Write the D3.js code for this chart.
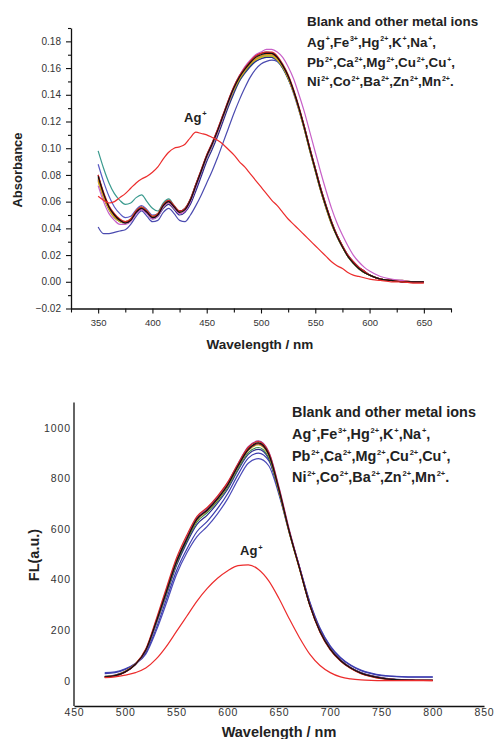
<!DOCTYPE html>
<html><head><meta charset="utf-8">
<script src="https://cdn.jsdelivr.net/npm/d3@7"></script>
<style>
body{margin:0;background:#fff}
svg{display:block;background:#fff}
text{font-family:"Liberation Sans",Arial,Helvetica,sans-serif}
</style>
</head><body><svg id="c" width="495" height="739"></svg>
<script>
// ---------- Absorbance (top) ----------
const wlAbs = [350,355,360,365,370,375,380,385,390,395,400,405,410,415,420,425,430,435,440,445,450,455,460,465,470,475,480,485,490,495,500,505,510,515,520,525,530,535,540,545,550,555,560,565,570,575,580,585,590,595,600,610,620,630,640,650];
const absBlack  = [.079,.066,.056,.050,.046,.044,.046,.052,.055,.052,.048,.050,.057,.060,.056,.052,.054,.061,.072,.083,.094,.103,.113,.124,.135,.145,.153,.159,.164,.168,.170,.171,.171,.168,.162,.154,.143,.130,.115,.099,.084,.069,.056,.044,.034,.026,.019,.014,.010,.007,.005,.002,.001,.000,.000,.000];
const absRed    = [.080,.067,.057,.051,.047,.045,.047,.053,.056,.053,.049,.051,.058,.061,.057,.053,.055,.062,.073,.084,.095,.104,.114,.125,.136,.146,.154,.160,.165,.169,.171,.172,.172,.169,.163,.155,.144,.131,.116,.100,.085,.070,.057,.045,.035,.027,.020,.015,.011,.008,.005,.002,.001,.000,.000,.000];
const absOrange = [.077,.064,.055,.049,.046,.045,.047,.053,.056,.053,.049,.051,.057,.060,.056,.052,.054,.061,.072,.083,.094,.103,.113,.124,.134,.144,.152,.158,.163,.167,.169,.170,.170,.167,.161,.153,.142,.129,.114,.098,.083,.068,.055,.043,.034,.026,.019,.014,.010,.007,.005,.002,.001,.001,.000,.000];
const absOlive  = [.075,.063,.054,.048,.045,.044,.046,.052,.055,.052,.048,.050,.056,.059,.055,.052,.054,.061,.072,.083,.093,.102,.112,.123,.134,.144,.152,.158,.163,.166,.168,.169,.169,.166,.161,.153,.142,.129,.115,.099,.084,.069,.056,.044,.034,.026,.019,.014,.010,.007,.005,.002,.001,.000,.000,.000];
const absGreen  = [.078,.065,.056,.050,.046,.045,.047,.053,.056,.053,.049,.051,.058,.061,.056,.052,.054,.061,.072,.082,.093,.102,.112,.123,.133,.143,.151,.157,.162,.166,.168,.169,.169,.166,.160,.152,.142,.129,.114,.098,.083,.068,.055,.043,.034,.026,.019,.014,.010,.007,.005,.002,.001,.000,.000,.000];
const absMagenta= [.072,.060,.051,.046,.043,.043,.045,.051,.054,.051,.047,.049,.056,.059,.055,.051,.053,.060,.071,.082,.093,.102,.112,.123,.134,.145,.154,.161,.166,.170,.172,.174,.174,.172,.168,.161,.152,.140,.127,.112,.097,.082,.068,.055,.044,.035,.027,.020,.015,.011,.008,.004,.002,.001,.000,.000];
const absWine   = [.080,.066,.056,.050,.046,.044,.046,.052,.055,.052,.048,.050,.057,.060,.056,.053,.055,.062,.073,.084,.095,.104,.114,.125,.136,.146,.154,.160,.165,.169,.171,.172,.171,.168,.162,.154,.143,.130,.116,.100,.085,.070,.057,.045,.035,.027,.020,.015,.011,.008,.005,.002,.001,.000,.000,.000];
const absTeal   = [.098,.085,.074,.066,.061,.058,.059,.063,.065,.060,.055,.053,.059,.062,.057,.053,.055,.062,.073,.083,.094,.103,.113,.123,.134,.144,.152,.158,.163,.167,.169,.170,.170,.167,.161,.153,.142,.129,.114,.098,.083,.068,.055,.043,.034,.026,.019,.014,.010,.007,.005,.002,.001,.000,.000,.000];
const absBlueHi = [.088,.075,.064,.056,.051,.048,.049,.054,.057,.054,.050,.051,.057,.060,.056,.052,.054,.061,.071,.082,.093,.102,.112,.123,.133,.143,.151,.157,.162,.165,.167,.168,.168,.165,.160,.152,.141,.128,.114,.098,.083,.068,.055,.044,.034,.026,.019,.014,.010,.007,.005,.002,.001,.001,.000,.000];
const absBlueLo = [.041,.036,.036,.037,.038,.039,.043,.049,.053,.049,.045,.046,.052,.055,.051,.046,.045,.050,.057,.065,.074,.083,.093,.104,.115,.126,.136,.145,.153,.159,.163,.165,.166,.165,.160,.152,.142,.129,.115,.099,.084,.069,.056,.044,.034,.026,.019,.014,.010,.007,.005,.002,.001,.000,.000,.000];
const absNavy   = [.076,.063,.054,.048,.045,.044,.046,.051,.054,.051,.047,.049,.055,.058,.054,.050,.052,.058,.068,.079,.090,.099,.109,.120,.131,.141,.150,.156,.161,.165,.167,.168,.168,.166,.161,.153,.143,.130,.116,.100,.085,.070,.057,.045,.035,.027,.020,.015,.011,.008,.005,.002,.001,.000,.000,.000];
const absAg     = [.064,.061,.059,.060,.063,.066,.070,.074,.077,.079,.082,.086,.092,.097,.100,.101,.103,.108,.112,.111,.110,.108,.106,.103,.099,.095,.090,.086,.081,.076,.071,.066,.061,.057,.052,.047,.043,.039,.035,.031,.027,.023,.019,.015,.012,.010,.007,.005,.004,.003,.002,.001,.000,.000,-.001,-.001];

const absMajorTicks = [-0.02,0,0.02,0.04,0.06,0.08,0.10,0.12,0.14,0.16,0.18];
const absMinorTicks = [-0.01,0.01,0.03,0.05,0.07,0.09,0.11,0.13,0.15,0.17,0.19];
const wlAbsMajorTicks = [350,400,450,500,550,600,650];
const wlAbsMinorTicks = [325,375,425,475,525,575,625,675];

// ---------- Fluorescence (bottom) ----------
const wlFl = [480,490,500,510,520,530,540,550,560,570,580,590,600,610,620,630,640,650,660,670,680,690,700,710,720,730,740,750,760,770,780,790,800];
const flBlack  = [15,20,35,65,120,230,350,470,560,640,675,720,775,850,915,940,895,755,590,445,300,195,125,80,50,30,18,10,5,3,2,1,1];
const flRed    = [14,19,34,66,125,240,365,485,575,650,685,730,785,858,922,945,902,760,592,445,298,192,122,78,48,28,16,8,4,2,1,1,0];
const flOrange = [15,20,36,66,122,235,357,475,565,640,678,722,778,852,916,938,893,752,588,443,299,194,124,79,49,29,17,9,5,3,2,1,1];
const flOlive  = [16,21,37,66,120,228,348,468,560,635,672,716,772,846,910,932,890,750,587,443,300,195,125,80,50,30,18,10,5,3,2,1,1];
const flPurple = [15,20,35,64,118,228,350,472,565,645,680,727,783,858,925,948,905,765,598,450,303,196,125,80,50,30,18,10,5,3,2,1,1];
const flWine   = [15,20,35,65,121,232,352,470,560,638,673,718,773,847,912,936,893,754,590,446,301,196,126,81,51,31,19,11,6,3,2,1,1];
const flGreen  = [16,21,36,65,118,225,343,462,552,628,665,710,765,838,902,922,882,745,585,442,299,195,125,80,50,30,18,10,5,3,2,1,1];
const flNavy   = [17,22,37,65,117,222,338,455,545,618,655,702,758,832,895,915,878,745,588,447,303,198,127,82,52,32,20,12,7,4,3,2,2];
const flBlue1  = [28,32,45,68,110,205,320,435,520,590,630,680,740,815,880,900,870,745,590,450,310,205,135,90,60,40,28,20,17,15,14,14,14];
const flBlue2  = [32,35,47,68,105,195,305,420,505,570,610,660,720,795,860,878,850,735,585,450,312,208,138,92,62,42,30,22,18,16,15,15,15];
const flAg     = [12,15,22,32,50,85,135,195,255,315,365,405,435,455,458,440,395,325,245,170,105,60,32,15,7,3,1,0,0,0,0,0,0];

const flTicks = [0,200,400,600,800,1000];
const wlFlTicks = [450,500,550,600,650,700,750,800,850];

// ---------- Texts ----------
const legendTitle = "Blank and other metal ions";
const ionLines = [
  [["Ag","+"],[",Fe","3+"],[",Hg","2+"],[",K","+"],[",Na","+"],[",",""]],
  [["Pb","2+"],[",Ca","2+"],[",Mg","2+"],[",Cu","2+"],[",Cu","+"],[",",""]],
  [["Ni","2+"],[",Co","2+"],[",Ba","2+"],[",Zn","2+"],[",Mn","2+"],[".",""]]
];
const agLabel = ["Ag","+"];

const absSeries = [
  {v:absBlueLo, c:"#4b4bb0"},
  {v:absBlueHi, c:"#5a5ac4"},
  {v:absTeal,   c:"#3a9a8e"},
  {v:absNavy,   c:"#2a2a8c"},
  {v:absGreen,  c:"#3c8c48"},
  {v:absOlive,  c:"#c8c020"},
  {v:absOrange, c:"#f08a20"},
  {v:absWine,   c:"#8c1c40"},
  {v:absMagenta,c:"#c860c8"},
  {v:absRed,    c:"#d82828"},
  {v:absBlack,  c:"#111111"}
];
const flSeries = [
  {v:flBlue2,  c:"#4a4ab8"},
  {v:flBlue1,  c:"#3c3cae"},
  {v:flNavy,   c:"#2a2a8c"},
  {v:flGreen,  c:"#3c8c48"},
  {v:flOlive,  c:"#c8c020"},
  {v:flOrange, c:"#f08a20"},
  {v:flWine,   c:"#8c1c40"},
  {v:flPurple, c:"#a040a0"},
  {v:flRed,    c:"#d82828"},
  {v:flBlack,  c:"#111111"}
];

const svg = d3.select("#c");
const txt = "#222";

function supText(g, x, y, parts, size, supSize) {
  const t = g.append("text").attr("x", x).attr("y", y)
    .attr("font-size", size).attr("font-weight", "bold").attr("fill", txt);
  const shift = size * 0.4;
  let back = 0;
  parts.forEach(([base, sup]) => {
    t.append("tspan").attr("dy", back).text(base);
    back = 0;
    if (sup) {
      t.append("tspan").attr("dx", 0.8).attr("dy", -shift).attr("font-size", supSize).text(sup);
      back = shift;
    }
  });
  return t;
}

function styleAxis(g, col) {
  g.selectAll("path.domain").attr("stroke", "#111").attr("stroke-width", 1.3);
  g.selectAll(".tick line").attr("stroke", "#111").attr("stroke-width", 1.1);
  g.selectAll(".tick text").attr("fill", col).attr("font-family", '"Liberation Sans",Arial,sans-serif');
}

// ================= TOP CHART =================
{
  const x = d3.scaleLinear().domain([325, 675]).range([71, 451]);
  const y = d3.scaleLinear().domain([-0.02, 0.19]).range([308.5, 28]);
  const g = svg.append("g");

  const line = d3.line().curve(d3.curveMonotoneX);
  absSeries.forEach(s => {
    const pts = wlAbs.map((w,i) => [x(w), y(s.v[i])]);
    g.append("path").attr("d", line(pts)).attr("fill","none")
      .attr("stroke", s.c).attr("stroke-width", 1.2);
  });
  const agPts = wlAbs.map((w,i) => [x(w), y(absAg[i])]);
  g.append("path").attr("d", line(agPts)).attr("fill","none")
    .attr("stroke", "#ec2c2c").attr("stroke-width", 1.2);

  const yMinor = g.append("g").attr("transform","translate(71,0)")
    .call(d3.axisLeft(y).tickValues(absMinorTicks).tickSize(3).tickSizeOuter(0).tickFormat(""));
  yMinor.select("path.domain").remove();
  yMinor.selectAll(".tick text").remove();
  styleAxis(yMinor, "#333");
  const yAx = g.append("g").attr("transform","translate(71,0)")
    .call(d3.axisLeft(y).tickValues(absMajorTicks).tickSize(5).tickSizeOuter(0).tickPadding(5).tickFormat(d3.format(".2f")));
  yAx.selectAll(".tick text").attr("font-size", 10);
  styleAxis(yAx, "#333");

  const xMinor = g.append("g").attr("transform","translate(0,308.5)")
    .call(d3.axisBottom(x).tickValues(wlAbsMinorTicks).tickSize(4).tickSizeOuter(0).tickFormat(""));
  xMinor.select("path.domain").remove();
  xMinor.selectAll(".tick text").remove();
  styleAxis(xMinor, "#333");
  const xAx = g.append("g").attr("transform","translate(0,308.5)")
    .call(d3.axisBottom(x).tickValues(wlAbsMajorTicks).tickSize(5).tickSizeOuter(0).tickPadding(6).tickFormat(d3.format("d")));
  xAx.selectAll(".tick text").attr("font-size", 9.5);
  styleAxis(xAx, "#333");

  g.append("text").attr("transform","translate(21.5,170) rotate(-90)")
    .attr("text-anchor","middle").attr("font-size",13).attr("font-weight","bold")
    .attr("fill",txt).text("Absorbance");
  g.append("text").attr("x",260).attr("y",349).attr("text-anchor","middle")
    .attr("font-size",13.5).attr("font-weight","bold").attr("fill",txt).text("Wavelength / nm");

  g.append("text").attr("x",307).attr("y",26).attr("font-size",13.4)
    .attr("font-weight","bold").attr("fill",txt).text(legendTitle);
  [46.5, 67, 86].forEach((yy,i) => supText(g, 307, yy, ionLines[i], 13.4, 7));
  supText(g, 184, 121.5, [agLabel], 13, 7.5);
}

// ================= BOTTOM CHART =================
{
  const x = d3.scaleLinear().domain([450, 850]).range([74, 484]);
  const y = d3.scaleLinear().domain([-100, 1100]).range([706, 402.5]);
  const g = svg.append("g");
  const line = d3.line().curve(d3.curveMonotoneX);

  flSeries.forEach(s => {
    const pts = wlFl.map((w,i) => [x(w), y(s.v[i])]);
    g.append("path").attr("d", line(pts)).attr("fill","none")
      .attr("stroke", s.c).attr("stroke-width", 1.2);
  });
  const agPts = wlFl.map((w,i) => [x(w), y(flAg[i])]);
  g.append("path").attr("d", line(agPts)).attr("fill","none")
    .attr("stroke", "#ec2c2c").attr("stroke-width", 1.2);

  const yAx = g.append("g").attr("transform","translate(74,0)")
    .call(d3.axisLeft(y).tickValues(flTicks).tickSize(0).tickSizeOuter(0).tickPadding(3).tickFormat(d3.format("d")));
  yAx.selectAll(".tick text").attr("font-size", 10.5).attr("letter-spacing", "0.9px");
  styleAxis(yAx, "#333");
  yAx.select("path.domain").attr("d", `M0,${y(-100)}V${y(1100)}`);

  const xAx = g.append("g").attr("transform","translate(0,706)")
    .call(d3.axisBottom(x).tickValues(wlFlTicks).tickSize(0).tickSizeOuter(0).tickPadding(3).tickFormat(d3.format("d")));
  xAx.selectAll(".tick text").attr("font-size", 10.5).attr("letter-spacing", "0.9px");
  styleAxis(xAx, "#333");

  g.append("text").attr("transform","translate(38.5,555) rotate(-90)")
    .attr("text-anchor","middle").attr("font-size",14.5).attr("font-weight","bold")
    .attr("fill",txt).text("FL(a.u.)");
  g.append("text").attr("x",279).attr("y",737).attr("text-anchor","middle")
    .attr("font-size",14.5).attr("font-weight","bold").attr("fill",txt).text("Wavelength / nm");

  g.append("text").attr("x",292).attr("y",417).attr("font-size",14.4)
    .attr("font-weight","bold").attr("fill",txt).text(legendTitle);
  [439, 461, 482].forEach((yy,i) => supText(g, 292, yy, ionLines[i], 14.4, 7.5));
  supText(g, 240, 555, [agLabel], 13, 7.5);
}
</script>
</body></html>
